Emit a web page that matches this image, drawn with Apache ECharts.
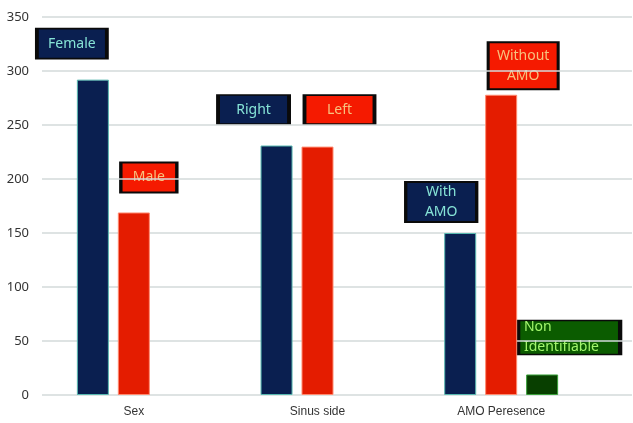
<!DOCTYPE html>
<html>
<head>
<meta charset="utf-8">
<script src="https://cdn.jsdelivr.net/npm/echarts@6/dist/echarts.min.js"></script>
<style>
  html, body { margin: 0; padding: 0; background: #fff; }
  #chart { width: 633px; height: 423px; }
</style>
</head>
<body>
<div id="chart"></div>
<script>
// data
const categories = ['Sex', 'Sinus side', 'AMO Peresence'];
const navyValues = [292, 231, 150];
const redValues = [169, 230, 278];
const greenValues = ['-', '-', 19];
const navyNames = ['Female', 'Right', 'With\nAMO'];
const redNames = ['Male', 'Left', 'Without\nAMO'];
const greenNames = [null, null, 'Non\nIdentifiable'];
const yTicks = [0, 50, 100, 150, 200, 250, 300, 350];

// box size / offset from the bar's top centre (px)
const navyBoxes = [
  {size: [70, 30], offset: [-21, -36]},
  {size: [71, 29], offset: [-23, -36]},
  {size: [71, 40], offset: [-19, -31]}
];
const redBoxes = [
  {size: [56, 30], offset: [15, -35]},
  {size: [70, 29], offset: [22, -37]},
  {size: [70, 47], offset: [22, -29]}
];
const greenBoxes = [null, null, {size: [102, 34], offset: [27, -37]}];

const chart = echarts.init(document.getElementById('chart'));

function marks(names, values, boxes, fill, textColor, insideLeft) {
  const data = [];
  names.forEach(function (n, i) {
    if (!n) return;
    data.push({
      name: n,
      coord: [categories[i], values[i]],
      symbolSize: boxes[i].size,
      symbolOffset: boxes[i].offset
    });
  });
  return {
    z: 1,
    symbol: 'rect',
    silent: true,
    itemStyle: {color: fill, borderColor: '#0a0a0a', borderWidth: 2.5},
    label: {
      show: true,
      position: insideLeft ? 'insideLeft' : 'inside',
      distance: 8,
      formatter: '{b}',
      color: textColor,
      fontFamily: 'Noto Sans',
      fontSize: 14,
      lineHeight: 20
    },
    data: data
  };
}

const axisFont = {fontFamily: 'Liberation Sans', fontSize: 12, color: '#333'};

chart.setOption({
  backgroundColor: '#fff',
  animation: false,
  grid: [
    {left: 42, right: 1, top: 17, bottom: 28},
    {left: 42, right: 40, top: 17, bottom: 28}
  ],
  xAxis: [
    {type: 'category', gridIndex: 0, data: categories, show: false},
    {
      type: 'category', gridIndex: 1, data: categories,
      axisLine: {show: false}, axisTick: {show: false},
      axisLabel: Object.assign({margin: 11}, axisFont)
    }
  ],
  yAxis: [
    {
      type: 'value', gridIndex: 0, min: yTicks[0], max: yTicks[yTicks.length - 1], interval: 50,
      z: 2,
      axisLine: {show: false}, axisTick: {show: false},
      axisLabel: {margin: 13, fontFamily: 'Noto Sans', fontSize: 13, color: '#333'},
      splitLine: {lineStyle: {color: '#d3dada', width: 1.5}}
    },
    {type: 'value', gridIndex: 1, min: yTicks[0], max: yTicks[yTicks.length - 1], interval: 50, show: false}
  ],
  series: [
    {
      type: 'bar', xAxisIndex: 1, yAxisIndex: 1, z: 3,
      data: navyValues, barWidth: 32, barGap: '28%',
      itemStyle: {color: '#0a1f50', borderColor: '#58b8b0', borderWidth: 1},
      markPoint: marks(navyNames, navyValues, navyBoxes, '#0a1f50', '#86e3d6', false)
    },
    {
      type: 'bar', xAxisIndex: 1, yAxisIndex: 1, z: 3,
      data: redValues, barWidth: 32, barGap: '28%',
      itemStyle: {color: '#e41c00', borderColor: '#ff8a70', borderWidth: 1},
      markPoint: marks(redNames, redValues, redBoxes, '#f51a00', '#f7c27e', false)
    },
    {
      type: 'bar', xAxisIndex: 1, yAxisIndex: 1, z: 3,
      data: greenValues, barWidth: 32, barGap: '28%',
      itemStyle: {color: '#083f00', borderColor: '#3aa03a', borderWidth: 1},
      markPoint: marks(greenNames, greenValues, greenBoxes, '#0b5c00', '#a2f56c', true)
    }
  ]
});
</script>
</body>
</html>
